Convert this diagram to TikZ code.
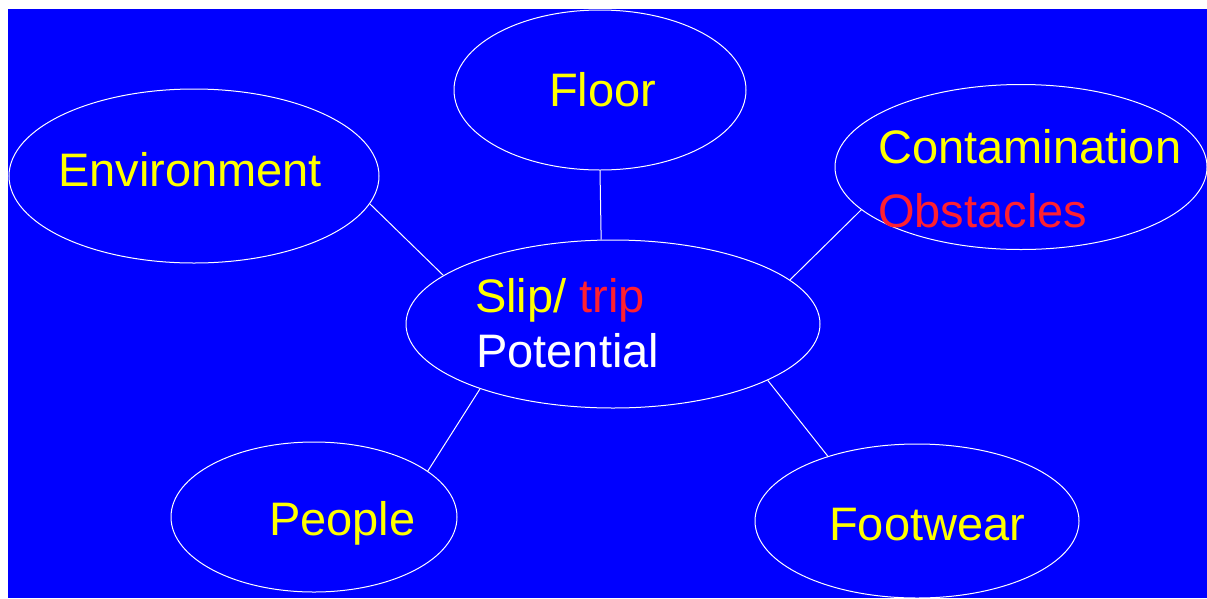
\documentclass[tikz,border=0pt]{standalone}
\usepackage{fontspec}
\setmainfont{Liberation Sans}
\usetikzlibrary{shapes.geometric}
\definecolor{bg}{RGB}{0,0,255}
\definecolor{yel}{RGB}{255,255,0}
\definecolor{rd}{RGB}{255,32,48}
\begin{document}
\begin{tikzpicture}[x=1pt,y=-1pt,
  oval/.style={ellipse,draw=white,line width=1pt,inner sep=0pt},
  lbl/.style={anchor=base west,inner sep=0pt,font=\fontsize{47}{55}\selectfont},
  link/.style={draw=white,line width=1pt}]
\useasboundingbox (0,0) rectangle (1207,598);
\fill[bg] (8,9) rectangle (1207,598);
% ellipses
\node[oval,minimum width=292pt,minimum height=160pt] (floor) at (600,90) {};
\node[oval,minimum width=370pt,minimum height=174pt] (env) at (194,176) {};
\node[oval,minimum width=372pt,minimum height=165pt] (cont) at (1021,167) {};
\node[oval,minimum width=414pt,minimum height=168pt] (slip) at (613,324) {};
\node[oval,minimum width=286pt,minimum height=150pt] (people) at (314,517) {};
\node[oval,minimum width=324pt,minimum height=154pt] (foot) at (917,521) {};
% texts
\node[lbl,text=yel] (tfloor) at (549,106) {Floor};
\node[lbl,text=yel] (tenv) at (58,186) {Environment};
\node[lbl,text=yel] (tcont) at (878,163) {Contamination};
\node[lbl,text=rd] (tobs) at (878,227) {Obstacles};
\node[lbl] (tslip) at (475,312) {\textcolor{yel}{Slip/} \textcolor{rd}{trip}};
\node[lbl,text=white] (tpot) at (476,367) {Potential};
\node[lbl,text=yel] (tpeople) at (269,535) {People};
\node[lbl,text=yel] (tfoot) at (829,540) {Footwear};
% connectors
\draw[link] (floor.-90) -- (slip.98);
\draw[link] (env.-9.5) -- (slip.164);
\draw[link] (cont.195) -- (slip.14.3);
\draw[link] (people.22.6) -- (slip.206);
\draw[link] (foot.144.5) -- (slip.-20);
\end{tikzpicture}
\end{document}
